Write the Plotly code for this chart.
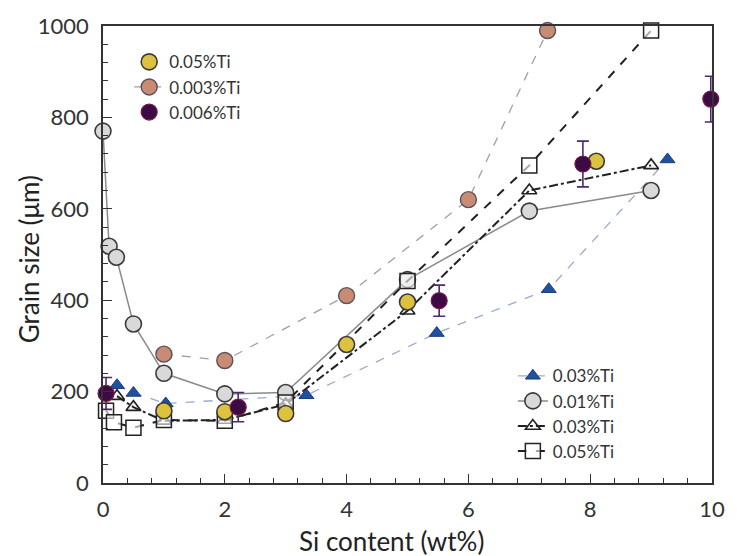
import plotly.graph_objects as go

# ---- data ----
gray_x = [0.0, 0.1, 0.22, 0.5, 1.0, 2.0, 3.0, 5.0, 7.0, 9.0]
gray_y = [770, 518, 494, 348, 240, 195, 198, 445, 595, 640]

salmon_x = [1.0, 2.0, 4.0, 6.0, 7.3]
salmon_y = [282, 268, 410, 620, 990]

yellow_x = [1.0, 2.0, 3.0, 4.0, 5.0, 8.1]
yellow_y = [158, 156, 152, 303, 396, 704]

purple_x = [0.05, 2.22, 5.52, 7.88, 9.98]
purple_y = [196, 166, 399, 698, 840]
purple_err = [35, 32, 34, 50, 50]

blue_x = [0.23, 0.5, 1.03, 3.34, 5.48, 7.32, 9.27]
blue_y = [214, 197, 174, 192, 328, 424, 708]

tri_x = [0.23, 0.5, 1.0, 2.0, 3.0, 5.0, 7.0, 9.0]
tri_y = [190, 166, 136, 138, 172, 377, 640, 695]

sq_x = [0.05, 0.18, 0.5, 1.0, 2.0, 3.0, 5.0, 7.0, 9.0]
sq_y = [158, 133, 121, 138, 136, 176, 442, 695, 990]

x_title = "Si content (wt%)"
y_title = "Grain size (μm)"

fig = go.Figure()

# legend 2 series (drawn first, underneath)
fig.add_trace(go.Scatter(
    x=blue_x, y=blue_y, name="0.03%Ti", mode="lines+markers", legend="legend2",
    line=dict(color="#9aaacb", width=1.3, dash="dash"),
    marker=dict(symbol="triangle-up", size=13, color="#2050a0",
                line=dict(color="#1a3f80", width=1)),
    cliponaxis=False))
fig.add_trace(go.Scatter(
    x=gray_x, y=gray_y, name="0.01%Ti", mode="lines+markers", legend="legend2",
    line=dict(color="#8a8a8a", width=1.5),
    marker=dict(symbol="circle", size=16, color="#d9d9d9",
                line=dict(color="#3a3a3a", width=1.6)),
    cliponaxis=False))
fig.add_trace(go.Scatter(
    x=tri_x, y=tri_y, name="0.03%Ti", mode="lines+markers", legend="legend2",
    line=dict(color="#222222", width=2, dash="dashdot"),
    marker=dict(symbol="triangle-up-open", size=13, color="#222222",
                line=dict(color="#222222", width=1.6)),
    cliponaxis=False))
fig.add_trace(go.Scatter(
    x=sq_x, y=sq_y, name="0.05%Ti", mode="lines+markers", legend="legend2",
    line=dict(color="#222222", width=2, dash="dash"),
    marker=dict(symbol="square", size=15, color="rgba(255,255,255,0.6)",
                line=dict(color="#222222", width=1.5)),
    cliponaxis=False))

# legend 1 series
fig.add_trace(go.Scatter(
    x=yellow_x, y=yellow_y, name="0.05%Ti", mode="markers", legend="legend",
    marker=dict(symbol="circle", size=16, color="#dcc23e",
                line=dict(color="#3a3a3a", width=1.6)),
    cliponaxis=False))
fig.add_trace(go.Scatter(
    x=salmon_x, y=salmon_y, name="0.003%Ti", mode="lines+markers", legend="legend",
    line=dict(color="#a0a0a0", width=1.3, dash="dash"),
    marker=dict(symbol="circle", size=16, color="#c98a76",
                line=dict(color="#555555", width=1.4)),
    cliponaxis=False))
fig.add_trace(go.Scatter(
    x=purple_x, y=purple_y, name="0.006%Ti", mode="markers", legend="legend",
    marker=dict(symbol="circle", size=16, color="#3c0a45",
                line=dict(color="#7a1a40", width=1.2)),
    error_y=dict(type="data", array=purple_err, visible=True,
                 color="#4a2a70", thickness=1.6, width=6),
    cliponaxis=False))

font_family = "Lato, 'Open Sans', sans-serif"

fig.update_layout(
    width=737, height=556,
    margin=dict(l=103, r=12, t=23, b=73),
    paper_bgcolor="white", plot_bgcolor="white",
    font=dict(family=font_family, color="#333333"),
    showlegend=True,
    legend=dict(x=0.043, y=0.96, xanchor="left", yanchor="top",
                bgcolor="rgba(0,0,0,0)", font=dict(size=17, color="#333333"),
                tracegroupgap=0, itemwidth=30),
    legend2=dict(x=0.673, y=0.273, xanchor="left", yanchor="top",
                 bgcolor="rgba(0,0,0,0)", font=dict(size=17, color="#333333"),
                 tracegroupgap=0, itemwidth=30),
    xaxis=dict(range=[0, 10], dtick=2, showline=True, linecolor="#333333",
               linewidth=1.6, mirror=True, ticks="inside", ticklen=9,
               tickwidth=1.4, tickcolor="#333333", showgrid=False, zeroline=False,
               tickfont=dict(size=22, color="#333333"), ticklabelstandoff=6,
               minor=dict(dtick=0.4, ticks="inside", ticklen=5, tickwidth=1.2,
                          tickcolor="#333333", showgrid=False)),
    yaxis=dict(range=[0, 1000], dtick=200, showline=True, linecolor="#333333",
               linewidth=1.6, mirror=True, ticks="inside", ticklen=9,
               tickwidth=1.4, tickcolor="#333333", showgrid=False, zeroline=False,
               tickfont=dict(size=22, color="#333333"), ticklabelstandoff=8,
               minor=dict(dtick=40, ticks="inside", ticklen=5, tickwidth=1.2,
                          tickcolor="#333333", showgrid=False)),
    annotations=[
        dict(text=x_title, xref="paper", yref="paper", x=0.474, y=-0.128,
             xanchor="center", yanchor="middle", showarrow=False,
             font=dict(size=26, color="#222222")),
        dict(text=y_title, xref="paper", yref="paper", x=-0.122, y=0.489,
             xanchor="center", yanchor="middle", showarrow=False, textangle=-90,
             font=dict(size=26, color="#222222")),
    ],
)

fig.write_html("out.html")
